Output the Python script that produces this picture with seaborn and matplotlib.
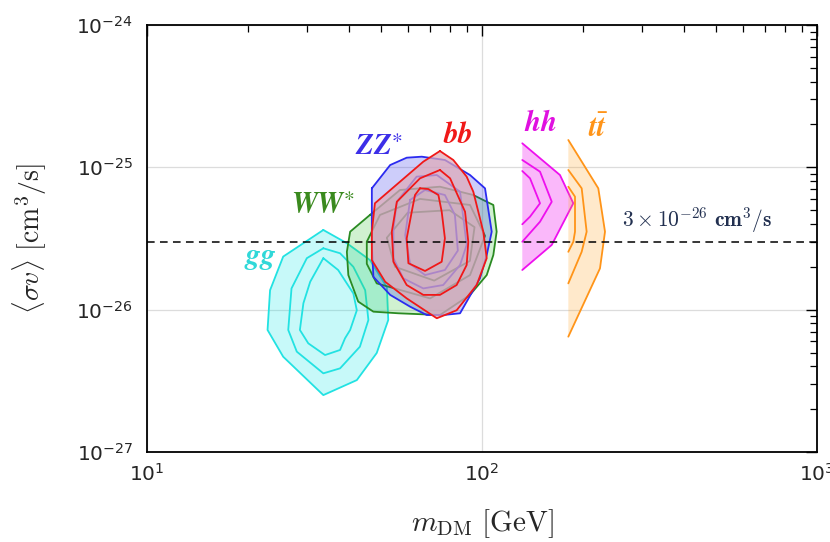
import matplotlib
matplotlib.use("Agg")
import matplotlib.pyplot as plt
import pandas as pd
import seaborn as sns

# Preferred regions in the (m_DM, <sigma v>) plane for each annihilation channel.
# Vertices: (m_DM [GeV], <sigma v> [1e-26 cm^3/s]); three nested confidence levels,
# outermost first.
gg_1 = [(33.6, 3.63), (25.5, 2.36), (23.3, 1.37), (22.9, 0.72), (25.5, 0.467),
        (33.6, 0.251), (42.3, 0.320), (48.5, 0.496), (52.5, 0.846), (52.0, 1.44),
        (46.3, 2.23), (39.5, 2.93)]
gg_2 = [(33.6, 2.70), (30.0, 2.30), (27.0, 1.41), (26.4, 0.72), (28.0, 0.507),
        (33.6, 0.357), (37.7, 0.387), (43.2, 0.549), (45.8, 0.846), (44.8, 1.37),
        (41.3, 2.00), (37.7, 2.49)]
gg_3 = [(33.6, 2.30), (30.7, 1.57), (29.3, 1.11), (28.6, 0.72), (30.3, 0.58),
        (34.0, 0.48), (37.7, 0.521), (39.0, 0.629), (40.4, 0.72), (42.3, 0.99),
        (41.3, 1.30), (37.2, 1.90)]

ww_1 = [(46.3, 4.63), (56.9, 6.93), (74.9, 7.31), (94.2, 6.39), (103.3, 5.73),
        (108.1, 5.44), (110.6, 3.53), (108.1, 2.42), (103.3, 1.75), (92.1, 1.27),
        (74.9, 0.917), (56.3, 0.943), (47.4, 0.968), (42.7, 1.14), (39.9, 1.75),
        (39.5, 2.55), (40.4, 3.53)]
ww_2 = [(45.3, 3.00), (49.6, 4.63), (65.3, 6.0), (92.1, 5.44), (102.1, 3.3),
        (92.1, 1.75), (70.0, 1.2), (48.5, 1.53), (45.3, 2.1)]
ww_3 = [(52.0, 3.2), (60.0, 4.8), (80.0, 5.0), (95.0, 3.8), (92.0, 2.2),
        (72.0, 1.6), (55.0, 2.0)]

zz_1 = [(46.9, 7.12), (53.2, 10.38), (59.6, 11.69), (66.1, 11.88), (77.5, 11.26),
        (92.1, 8.83), (102.1, 7.12), (106.9, 3.53), (103.3, 2.42), (98.6, 1.66),
        (86.0, 0.943), (76.6, 0.917), (68.4, 0.917), (61.0, 1.05), (53.2, 1.27),
        (47.4, 1.70), (46.9, 2.85)]
zz_2 = [(55.7, 5.73), (63.8, 8.60), (73.3, 8.83), (86.0, 6.74), (90.0, 2.85),
        (86.0, 2.06), (76.6, 1.49), (66.8, 1.41), (58.2, 1.66), (54.4, 2.30),
        (54.4, 3.73)]
zz_3 = [(61.0, 5.90), (67.6, 6.93), (77.5, 6.39), (83.0, 4.63), (84.7, 2.6),
        (77.5, 1.9), (67.6, 1.75), (61.0, 2.1), (59.0, 3.35)]

bb_1 = [(74.9, 13.02), (82.1, 11.26), (90.0, 8.60), (94.2, 6.74), (100.9, 3.53),
        (103.3, 2.30), (96.4, 1.49), (84.0, 0.99), (73.3, 0.870), (59.6, 1.20),
        (51.4, 1.57), (46.9, 2.23), (46.9, 3.53), (47.9, 5.59), (66.8, 10.96)]
bb_2 = [(74.9, 9.58), (80.3, 8.37), (89.0, 4.88), (91.0, 3.00), (90.0, 2.06),
        (84.0, 1.49), (74.9, 1.27), (66.8, 1.27), (59.6, 1.49), (54.4, 2.17),
        (53.8, 3.53), (55.7, 5.73), (65.3, 8.37)]
bb_3 = [(65.3, 7.12), (69.1, 7.04), (74.1, 6.39), (75.8, 4.88), (77.5, 3.17),
        (75.8, 2.17), (67.6, 1.87), (60.3, 2.12), (59.6, 3.17), (61.7, 4.88),
        (63.1, 6.39)]

hh_1 = [(131.9, 14.75), (170.9, 8.83), (187.3, 5.59), (161.5, 2.85), (131.9, 1.90)]
hh_2 = [(131.9, 11.26), (149.0, 9.32), (161.5, 5.73), (149.0, 4.15), (131.9, 3.00)]
hh_3 = [(131.9, 9.42), (139.1, 8.37), (149.0, 5.59), (139.1, 4.50), (131.9, 3.98)]

tt_1 = [(181.0, 15.56), (222.4, 7.12), (232.9, 3.53), (225.0, 1.95), (181.0, 0.646)]
tt_2 = [(181.0, 9.58), (198.4, 7.12), (205.3, 3.53), (198.4, 2.55), (181.0, 1.53)]
tt_3 = [(181.0, 7.31), (189.5, 6.22), (189.5, 3.53), (187.3, 3.00), (181.0, 2.55)]

channels = ["gg", "WW", "ZZ", "bb", "hh", "tt"]
labels = [r"$\mathbfit{gg}$", r"$\mathbfit{WW}^{\ast}$", r"$\mathbfit{ZZ}^{\ast}$",
          r"$\mathbfit{bb}$", r"$\mathbfit{hh}$", r"$\mathbfit{t}\bar{\mathbfit{t}}$"]
label_pos = [(21.8, 2.30), (33.5, 5.44), (49.3, 13.9), (84.7, 16.9), (150.0, 20.5), (222.0, 18.6)]

thermal_xsec = 3e-26  # canonical thermal relic cross section [cm^3/s]

sns.set_style("white")
plt.rcParams["mathtext.fontset"] = "cm"
plt.rcParams["font.family"] = ["DejaVu Sans"]

styles = {
    "gg": dict(levels=[gg_1, gg_2, gg_3], line="#22e2e2", fill="#00e6e6", alpha=0.22, open_left=False),
    "WW": dict(levels=[ww_1, ww_2, ww_3], line="#2a8a22", fill="#3cc83c", alpha=0.24, open_left=False),
    "ZZ": dict(levels=[zz_1, zz_2, zz_3], line="#2b2bf0", fill="#3030ee", alpha=0.24, open_left=False),
    "bb": dict(levels=[bb_1, bb_2, bb_3], line="#f01818", fill="#dea9b8", alpha=0.72, open_left=False),
    "hh": dict(levels=[hh_1, hh_2, hh_3], line="#ee10ee", fill="#f000f0", alpha=0.28, open_left=True),
    "tt": dict(levels=[tt_1, tt_2, tt_3], line="#ff9418", fill="#ffa528", alpha=0.24, open_left=True),
}
label_colors = {"gg": "#30d8d8", "WW": "#3a8a1e", "ZZ": "#3c2ee8", "bb": "#f01818",
                "hh": "#e010e0", "tt": "#ff9418"}

fig = plt.figure(figsize=(8.30, 5.42), dpi=100)
ax = fig.add_axes([147 / 830, 90 / 542, 670 / 830, 427 / 542])
ax.set_xscale("log")
ax.set_yscale("log")
ax.set_xlim(10, 1000)
ax.set_ylim(1e-27, 1e-24)

ax.grid(True, which="major", color="#dcdcdc", lw=0.9)
ax.set_axisbelow(True)


def to_frame(points, close):
    pts = list(points) + ([points[0]] if close else [])
    df = pd.DataFrame(pts, columns=["m", "sv"])
    df["sv"] = df["sv"] * 1e-26
    return df


# each channel is stacked over the previous one: its fill veils the lines below
for i, ch in enumerate(channels):
    st = styles[ch]
    z = 2 + 2 * i
    outer = to_frame(st["levels"][0], close=True)
    ax.fill(outer["m"], outer["sv"], color=st["fill"], alpha=st["alpha"], lw=0, zorder=z)
    for lev in st["levels"]:
        df = to_frame(lev, close=not st["open_left"])
        sns.lineplot(data=df, x="m", y="sv", sort=False, estimator=None,
                     color=st["line"], lw=1.3, ax=ax, legend=False, zorder=z + 1)

ax.axhline(thermal_xsec, color="black", lw=1.1, ls=(0, (5, 3.5)), zorder=20)
ax.annotate(r"$\mathbf{3\times10^{-26}\ cm^3/s}$", xy=(262, thermal_xsec),
            xytext=(0, 5), textcoords="offset points", ha="left", va="bottom",
            fontsize=15.5, color="#223050", zorder=21)

for ch, lab, (x, y) in zip(channels, labels, label_pos):
    ax.text(x, y * 1e-26, lab, color=label_colors[ch], fontsize=21,
            ha="center", va="center", math_fontfamily="stix", zorder=21)

ax.tick_params(which="both", direction="in", top=True, right=True, color="black")
ax.tick_params(which="major", length=8, width=1.0, labelsize=14.5, pad=8)
ax.tick_params(which="minor", length=5, width=0.9)
ax.tick_params(axis="y", which="major", pad=10)
for sp in ax.spines.values():
    sp.set_color("black")
    sp.set_linewidth(1.3)
    sp.set_zorder(30)

ax.set_xlabel(r"$m_{\rm DM}\ [{\rm GeV}]$", fontsize=21, labelpad=16)
ax.set_ylabel(r"$\langle\sigma v\rangle\ [{\rm cm}^3/{\rm s}]$", fontsize=20, labelpad=20)

fig.savefig("out.png", dpi=100)
